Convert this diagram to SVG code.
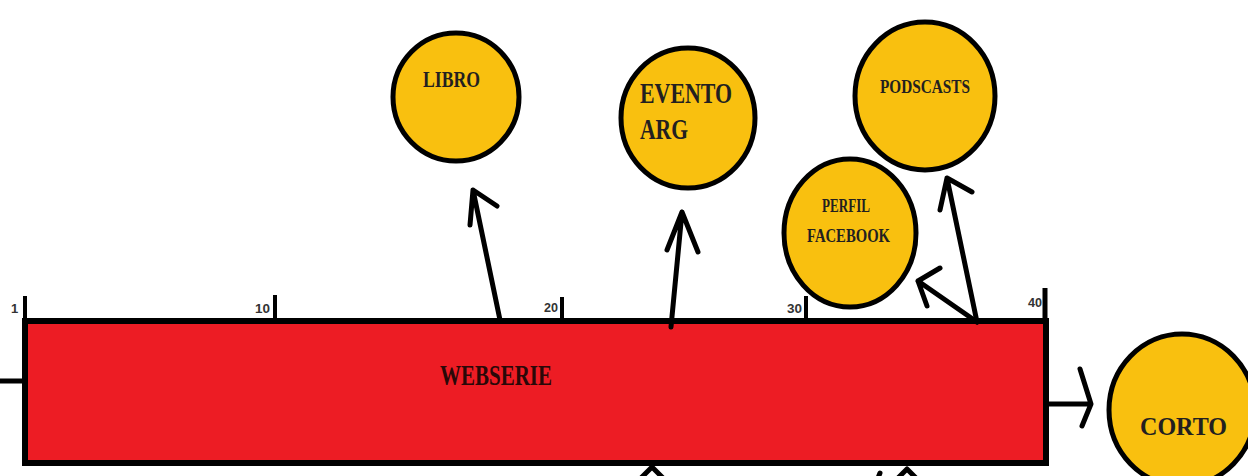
<svg xmlns="http://www.w3.org/2000/svg" width="1248" height="476" viewBox="0 0 1248 476">
<style>
.node{fill:#F9C00F;stroke:#000;stroke-width:5}
.lbl{font-family:"Liberation Serif",serif;font-weight:bold;fill:#231F20}
.tick{font-family:"Liberation Sans",sans-serif;font-weight:bold;font-size:13px;fill:#333}
.ln{fill:none;stroke:#000;stroke-width:5;stroke-linecap:round;stroke-linejoin:round}
</style>
<rect width="1248" height="476" fill="#fff"/>
<g id="webserie">
<rect x="25" y="321" width="1021" height="142" fill="#ED1C24" stroke="#000" stroke-width="6"/>
<text class="lbl" x="440" y="385" font-size="30" textLength="112" lengthAdjust="spacingAndGlyphs" style="fill:#2A0808">WEBSERIE</text>
</g>
<g id="scale">
<line x1="25" y1="296" x2="25" y2="322" stroke="#000" stroke-width="4"/>
<line x1="275" y1="295" x2="275" y2="322" stroke="#000" stroke-width="4"/>
<line x1="562" y1="297" x2="562" y2="322" stroke="#000" stroke-width="4"/>
<line x1="806" y1="296" x2="806" y2="322" stroke="#000" stroke-width="4"/>
<line x1="1045" y1="288" x2="1045" y2="322" stroke="#000" stroke-width="5"/>
<text class="tick" x="11" y="313">1</text>
<text class="tick" x="255" y="313" textLength="15" lengthAdjust="spacingAndGlyphs">10</text>
<text class="tick" x="544" y="312" textLength="14" lengthAdjust="spacingAndGlyphs">20</text>
<text class="tick" x="787" y="313" textLength="15" lengthAdjust="spacingAndGlyphs">30</text>
<text class="tick" x="1028" y="307" textLength="14" lengthAdjust="spacingAndGlyphs">40</text>
</g>
<g id="libro">
<ellipse class="node" cx="456" cy="97" rx="63" ry="64"/>
<text class="lbl" x="423" y="87" font-size="24" textLength="57" lengthAdjust="spacingAndGlyphs">LIBRO</text>
</g>
<g id="evento-arg">
<ellipse class="node" cx="688" cy="118" rx="67" ry="70"/>
<text class="lbl" x="640" y="103" font-size="30" textLength="92" lengthAdjust="spacingAndGlyphs">EVENTO</text>
<text class="lbl" x="640" y="139" font-size="30" textLength="48" lengthAdjust="spacingAndGlyphs">ARG</text>
</g>
<g id="podscasts">
<ellipse class="node" cx="925" cy="96" rx="70" ry="74"/>
<text class="lbl" x="880" y="93" font-size="19" textLength="90" lengthAdjust="spacingAndGlyphs">PODSCASTS</text>
</g>
<g id="perfil-facebook">
<ellipse class="node" cx="850" cy="233" rx="66" ry="74"/>
<text class="lbl" x="822" y="212" font-size="19" textLength="48" lengthAdjust="spacingAndGlyphs">PERFIL</text>
<text class="lbl" x="807" y="242" font-size="19" textLength="83" lengthAdjust="spacingAndGlyphs">FACEBOOK</text>
</g>
<g id="corto">
<ellipse class="node" cx="1182" cy="410" rx="73" ry="76"/>
<text class="lbl" x="1140" y="435" font-size="26" textLength="87" lengthAdjust="spacingAndGlyphs">CORTO</text>
</g>
<g id="connectors">
<line class="ln" x1="0" y1="381" x2="23" y2="381"/>
<path class="ln" d="M500 320 L473 190 M470 225 L473 190 L497 206"/>
<path class="ln" d="M671 327 L682 212 M667 250 L682 212 L698 252"/>
<path class="ln" d="M977 322 L947 178 M940 210 L947 178 L972 192"/>
<path class="ln" d="M977 322 L918 281 M940 268 L918 281 L927 306"/>
<path class="ln" d="M1048 404 L1091 404 M1080 369 L1091 404 L1082 426"/>
<path class="ln" d="M641 478 L652 467 L663 478"/>
<path class="ln" d="M878 478 L880 473"/>
<path class="ln" d="M898 478 L907 469 L916 478"/>
</g>
</svg>
